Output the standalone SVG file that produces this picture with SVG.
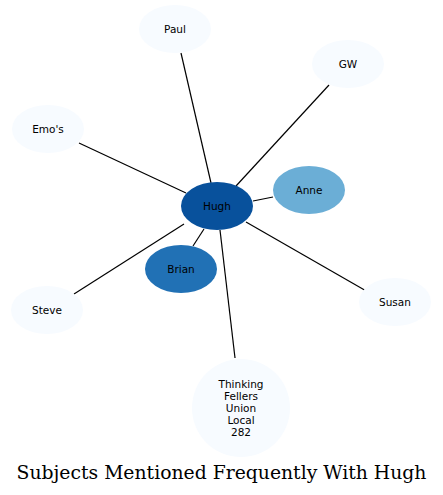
<svg xmlns="http://www.w3.org/2000/svg" width="443" height="495" viewBox="0 0 443 495">
<style>
.n text{font-family:"DejaVu Sans",sans-serif;font-size:10.5px;text-anchor:middle;dominant-baseline:central;fill:#000}
.light{fill:#f7fbff}
#edges line{stroke:#000;stroke-width:1.2}
.title{font-family:"DejaVu Serif",serif;font-size:18.8px;text-anchor:middle;fill:#000}
</style>
<rect width="443" height="495" fill="#fff"/>
<g id="edges">
<line x1="181" y1="53" x2="211" y2="183"/>
<line x1="329" y1="85" x2="236" y2="186"/>
<line x1="79" y1="143" x2="186" y2="193"/>
<line x1="74" y1="294" x2="184" y2="224"/>
<line x1="253" y1="201" x2="273" y2="197"/>
<line x1="193" y1="246" x2="204" y2="229"/>
<line x1="368" y1="292" x2="246" y2="222"/>
<line x1="235" y1="358" x2="220" y2="230"/>
</g>
<g id="paul" class="n"><ellipse cx="175" cy="29" rx="36" ry="24" class="light"/><text x="175" y="29">Paul</text></g>
<g id="gw" class="n"><ellipse cx="348" cy="64" rx="36" ry="24" class="light"/><text x="348" y="64">GW</text></g>
<g id="emos" class="n"><ellipse cx="48" cy="129" rx="36" ry="24" class="light"/><text x="48" y="129">Emo's</text></g>
<g id="steve" class="n"><ellipse cx="47" cy="310" rx="36" ry="24" class="light"/><text x="47" y="310">Steve</text></g>
<g id="susan" class="n"><ellipse cx="395" cy="302" rx="36" ry="24" class="light"/><text x="395" y="302">Susan</text></g>
<g id="hugh" class="n"><ellipse cx="217" cy="206" rx="36" ry="24" fill="#08519c"/><text x="217" y="206">Hugh</text></g>
<g id="anne" class="n"><ellipse cx="309" cy="190" rx="36" ry="24" fill="#6baed6"/><text x="309" y="190">Anne</text></g>
<g id="brian" class="n"><ellipse cx="181" cy="269" rx="36" ry="24" fill="#2171b5"/><text x="181" y="269">Brian</text></g>
<g id="thinking" class="n"><circle cx="241" cy="408" r="49" class="light"/>
<text x="241" y="384">Thinking</text><text x="241" y="396">Fellers</text><text x="241" y="408">Union</text><text x="241" y="420">Local</text><text x="241" y="432">282</text></g>
<text class="title" x="221.5" y="479">Subjects Mentioned Frequently With Hugh</text>
</svg>
